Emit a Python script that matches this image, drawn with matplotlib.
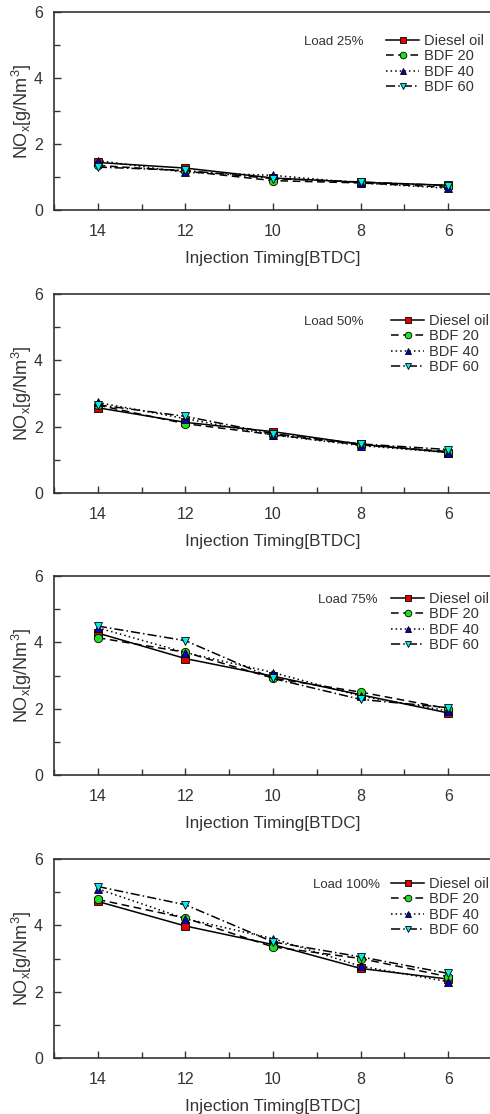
import matplotlib
matplotlib.use("Agg")
import matplotlib.pyplot as plt
from matplotlib.ticker import MultipleLocator

timing = [14, 12, 10, 8, 6]
series_names = ["Diesel oil", "BDF 20", "BDF 40", "BDF 60"]
loads = ["Load 25%", "Load 50%", "Load 75%", "Load 100%"]

diesel = [[1.44, 1.27, 0.97, 0.84, 0.75],
          [2.57, 2.13, 1.85, 1.47, 1.22],
          [4.28, 3.51, 2.98, 2.42, 1.87],
          [4.72, 3.98, 3.42, 2.70, 2.38]]
bdf20 = [[1.35, 1.18, 0.89, 0.82, 0.69],
         [2.65, 2.09, 1.76, 1.45, 1.25],
         [4.14, 3.70, 2.92, 2.50, 2.00],
         [4.78, 4.22, 3.35, 3.00, 2.45]]
bdf40 = [[1.50, 1.14, 1.05, 0.82, 0.66],
         [2.73, 2.24, 1.75, 1.43, 1.22],
         [4.44, 3.69, 3.09, 2.38, 1.93],
         [5.10, 4.20, 3.60, 2.77, 2.30]]
bdf60 = [[1.30, 1.20, 0.95, 0.85, 0.74],
         [2.66, 2.31, 1.79, 1.48, 1.31],
         [4.49, 4.05, 2.91, 2.28, 2.03],
         [5.17, 4.62, 3.50, 3.05, 2.55]]

styles = [dict(ls='-', marker='s', mfc='#e00000'),
          dict(ls=(0, (5, 3)), marker='o', mfc='#22dd22'),
          dict(ls=(0, (1, 2)), marker='^', mfc='#0000cc'),
          dict(ls=(0, (6, 2, 1, 2)), marker='v', mfc='#00eeee')]

W, H = 490, 1114
plt.rcParams['font.family'] = ['Liberation Sans', 'DejaVu Sans']
plt.rcParams['mathtext.fontset'] = 'custom'
plt.rcParams['mathtext.rm'] = 'Liberation Sans'
plt.rcParams['mathtext.it'] = 'Liberation Sans'
fig = plt.figure(figsize=(W / 100, H / 100), dpi=100)
txt = '#333333'

tops = [12, 294, 576, 859]
bots = [210, 493, 775, 1058]
leg_rows = [42, 322, 600, 885]
leg_x = [388, 393, 393, 393]
load_x = [304, 304, 318, 313]

left_px, right_px = 54, 492
for i in range(4):
    ax = fig.add_axes([left_px / W, 1 - bots[i] / H, (right_px - left_px) / W,
                       (bots[i] - tops[i]) / H])
    data = [diesel[i], bdf20[i], bdf40[i], bdf60[i]]
    for name, vals, st in zip(series_names, data, styles):
        ax.plot(timing, vals, color='black', lw=1.1, ls=st['ls'], marker=st['marker'],
                mfc=st['mfc'], mec='black', mew=0.6, ms=6, label=name)
    ax.set_xlim(15, 5)
    ax.set_ylim(0, 6)
    ax.set_xticks(timing)
    ax.set_yticks([0, 2, 4, 6])
    ax.xaxis.set_minor_locator(MultipleLocator(1))
    ax.yaxis.set_minor_locator(MultipleLocator(1))
    ax.tick_params(which='both', direction='in', colors='#333333', labelcolor=txt,
                   labelsize=11.5, width=1)
    ax.tick_params(which='major', length=5)
    ax.tick_params(which='minor', length=4)
    ax.tick_params(axis='x', which='both', top=False, pad=10)
    ax.tick_params(axis='y', which='both', right=False, pad=8)
    for s in ax.spines.values():
        s.set_color('#333333')
        s.set_linewidth(1.2)
    ax.set_xlabel('Injection Timing[BTDC]', fontsize=12.3, color=txt, labelpad=9)
    ax.set_ylabel('NO$_\\mathrm{x}$[g/Nm$^3$]', fontsize=13, color=txt, labelpad=0)
    # legend
    row_y = leg_rows[i]
    ax_h = bots[i] - tops[i]
    anchor_y = 1 - (row_y - 8 - tops[i]) / ax_h
    anchor_x = (leg_x[i] - left_px) / (right_px - left_px)
    ax.legend(loc='upper left', bbox_to_anchor=(anchor_x - 0.005, anchor_y),
              frameon=False, fontsize=10.5, handlelength=2.3, handletextpad=0.3,
              labelspacing=0.1, borderpad=0, borderaxespad=0, labelcolor=txt,
              markerscale=0.8)
    ax.text((load_x[i] - left_px) / (right_px - left_px), 1 - (row_y - tops[i]) / ax_h,
            loads[i], transform=ax.transAxes, fontsize=9.5, color=txt,
            ha='left', va='center')

fig.savefig('out.png', dpi=100)
